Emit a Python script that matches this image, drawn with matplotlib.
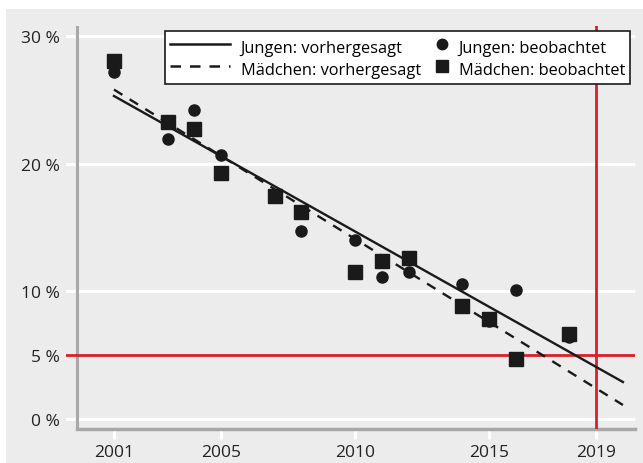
import matplotlib
matplotlib.use("Agg")
import matplotlib.pyplot as plt
from matplotlib.patches import Rectangle
from matplotlib.lines import Line2D
from matplotlib.legend_handler import HandlerLine2DCompound
import numpy as np

plt.rcParams['font.family'] = ['Open Sans', 'DejaVu Sans']

# beobachtete Werte (%)
jungen_jahre = [2001, 2003, 2004, 2005, 2008, 2010, 2011, 2012, 2014, 2015, 2016, 2018]
jungen_obs = [27.2, 21.9, 24.2, 20.7, 14.7, 14.0, 11.1, 11.5, 10.6, 7.7, 10.1, 6.4]

maedchen_jahre = [2001, 2003, 2004, 2005, 2007, 2008, 2010, 2011, 2012, 2014, 2015, 2016, 2018]
maedchen_obs = [28.0, 23.3, 22.7, 19.3, 17.5, 16.2, 11.5, 12.4, 12.6, 8.85, 7.85, 4.7, 6.65]

# vorhergesagte Trends (Endpunkte)
pred_jahre = [2001, 2020]
jungen_pred = [25.3, 2.9]
maedchen_pred = [25.8, 1.1]

x_ticks = [2001, 2005, 2010, 2015, 2019]
y_ticks = [0, 5, 10, 20, 30]
y_labels = ["0 %", "5 %", "10 %", "20 %", "30 %"]

ziel_jahr = 2019
ziel_wert = 5

bg = "#ececec"
rot = "#d8202c"
grau = "#a8a8a8"
schwarz = "#1a1a1a"
dash = (0, (4.2, 3.6))


class RightMarker(HandlerLine2DCompound):
    # Marker am rechten Ende des Legendenfelds
    def get_xdata(self, legend, xdescent, ydescent, width, height, fontsize):
        xdata = np.array([-xdescent, -xdescent + width])
        return xdata, np.array([-xdescent + width - 0.42 * fontsize])


fig = plt.figure(figsize=(6.43, 4.64), dpi=100)
fig.patches.append(Rectangle((6 / 643, 0), 1, 1 - 10 / 464, transform=fig.transFigure,
                             facecolor=bg, edgecolor="none", zorder=-10))

ax = fig.add_axes([66 / 643, 1 - 430 / 464, (635 - 66) / 643, (430 - 27) / 464])
ax.set_facecolor(bg)
ax.set_xlim(1999.21, 2020.45)
ax.set_ylim(-0.78, 30.78)

for s in ax.spines.values():
    s.set_visible(False)

for g in [0, 10, 20, 30]:
    ax.axhline(g, color="white", lw=2.2, zorder=1)

ax.axvline(1999.62, color=grau, lw=2.2, zorder=2)
ax.plot([1999.62, 2020.45], [-0.78, -0.78], color=grau, lw=2.5, zorder=2, clip_on=False)

ax.axhline(ziel_wert, color=rot, lw=2, zorder=2)
ax.axvline(ziel_jahr, color=rot, lw=2, zorder=2)

ax.plot(pred_jahre, jungen_pred, color=schwarz, lw=1.7, zorder=3)
ax.plot(pred_jahre, maedchen_pred, color=schwarz, lw=1.7, ls=dash, zorder=3)
ax.plot(jungen_jahre, jungen_obs, "o", color=schwarz, ms=8, zorder=4)
ax.plot(maedchen_jahre, maedchen_obs, "s", color=schwarz, ms=9.5, zorder=5)

ax.set_xticks(x_ticks)
ax.set_xticklabels([str(j) for j in x_ticks])
ax.set_yticks(y_ticks)
ax.set_yticklabels(y_labels)
ax.tick_params(axis="x", colors="white", length=7, width=2.2, pad=3.5, labelcolor="#222222", labelsize=12.5)
ax.tick_params(axis="y", length=0, pad=4.5, labelcolor="#222222", labelsize=12.5)

h1 = Line2D([], [], color=schwarz, lw=1.8)
h2 = Line2D([], [], color=schwarz, lw=1.8, ls=dash)
h3 = Line2D([], [], color=schwarz, marker="o", ls="none", ms=7.5)
h4 = Line2D([], [], color=schwarz, marker="s", ls="none", ms=8)
leg = ax.legend([h1, h2, h3, h4],
                ["Jungen: vorhergesagt", "Mädchen: vorhergesagt",
                 "Jungen: beobachtet", "Mädchen: beobachtet"],
                ncol=2, loc="upper right", fontsize=11.8, frameon=True, fancybox=False,
                handlelength=3.7, handleheight=1.6, handletextpad=0.62, columnspacing=-2.0,
                labelspacing=0.05, borderpad=0.3, borderaxespad=0.3,
                handler_map={h3: RightMarker(), h4: RightMarker()})
leg.get_frame().set_edgecolor(schwarz)
leg.get_frame().set_linewidth(1.2)
leg.get_frame().set_facecolor("white")
leg.get_frame().set_alpha(1)
leg.set_zorder(6)

fig.savefig("out.png", dpi=100, facecolor="white")
